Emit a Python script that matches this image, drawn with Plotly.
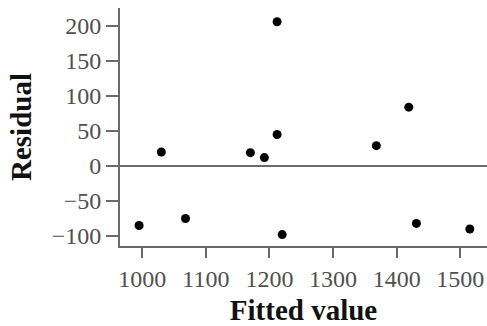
import plotly.graph_objects as go

fitted = [995, 1030, 1068, 1170, 1192, 1212, 1212, 1220, 1368, 1419, 1431, 1515]
residual = [-85, 20, -75, 19, 12, 206, 45, -98, 29, 84, -82, -90]

x_ticks = [1000, 1100, 1200, 1300, 1400, 1500]
y_ticks = [-100, -50, 0, 50, 100, 150, 200]

axis_color = "#6a6a6a"
tick_font = dict(family="Liberation Serif", size=24, color="#505050")
title_font = dict(family="Liberation Serif", size=29, color="#111111")

fig = go.Figure()
fig.add_trace(go.Scatter(
    x=fitted, y=residual, mode="markers",
    marker=dict(color="black", size=9),
    showlegend=False,
))

fig.update_layout(
    width=487, height=326,
    margin=dict(l=120, r=0, t=8, b=80),
    paper_bgcolor="white", plot_bgcolor="white",
)
fig.update_xaxes(
    range=[965, 1542], tickvals=x_ticks,
    showgrid=False, zeroline=False,
    showline=True, linecolor=axis_color, linewidth=2,
    ticks="outside", ticklen=10, tickwidth=2, tickcolor=axis_color,
    tickfont=tick_font,
    title=dict(text="<b>Fitted value</b>", font=title_font, standoff=9),
)
fig.update_yaxes(
    range=[-114.3, 225.7], tickvals=y_ticks,
    showgrid=False,
    zeroline=True, zerolinecolor=axis_color, zerolinewidth=2,
    showline=True, linecolor=axis_color, linewidth=2,
    ticks="outside", ticklen=12, tickwidth=2, tickcolor=axis_color,
    tickfont=tick_font,
    title=dict(text="<b>Residual</b>", font=title_font, standoff=12),
)

fig.write_html("out.html")
